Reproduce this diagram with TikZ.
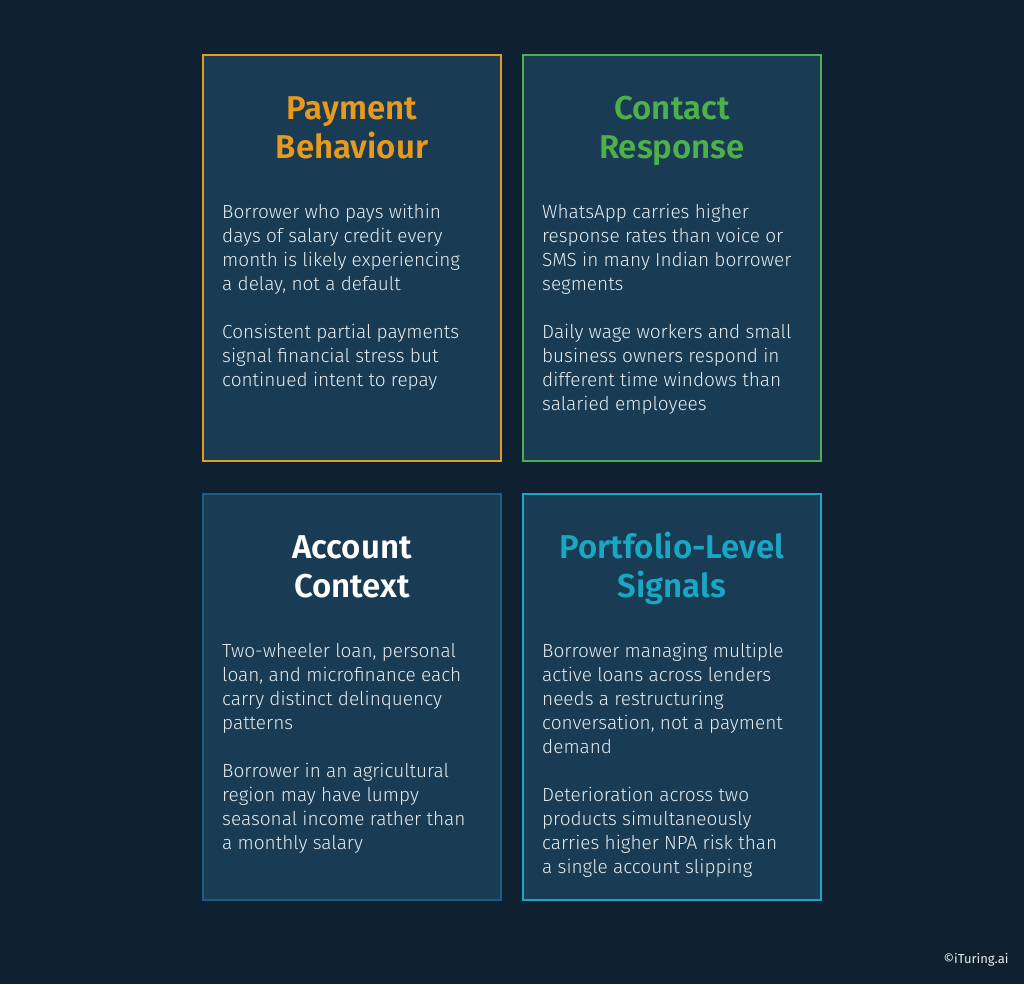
\documentclass[tikz,border=0pt]{standalone}
\usepackage{fontspec}
\setmainfont{Fira Sans}
\newfontfamily\titlefont{Fira Sans SemiBold}
\newfontfamily\bodyfont{Fira Sans Light}
\definecolor{bg}{HTML}{0F2030}
\definecolor{boxfill}{HTML}{193B54}
\definecolor{corange}{HTML}{E89A1C}
\definecolor{cgreen}{HTML}{4DB04A}
\definecolor{cblue}{HTML}{1A5C88}
\definecolor{ccyan}{HTML}{1AA7C4}
\definecolor{btext}{HTML}{E6ECF0}
\begin{document}
\begin{tikzpicture}[x=1pt,y=-1pt,
  card/.style={draw=#1,line width=2.5pt,fill=boxfill},
  ttl/.style={text=#1,font=\titlefont\fontsize{33}{39}\selectfont,align=center,anchor=center},
  body/.style={text=btext,font=\bodyfont\fontsize{19}{24}\selectfont,align=left,anchor=north west,inner sep=0pt}]
\useasboundingbox[fill=bg] (0,0) rectangle (1024,984);
\draw[card=corange] (203,55) rectangle (501,461);
\draw[card=cgreen] (523,55) rectangle (821,461);
\draw[card=cblue] (203,494) rectangle (501,900);
\draw[card=ccyan] (523,494) rectangle (821,900);
\node[ttl=corange] (t1) at (352,131) {\strut Payment\\\strut Behaviour};
\node[ttl=cgreen] (t2) at (672,131) {\strut Contact\\\strut Response};
\node[ttl=white] (t3) at (352,570) {\strut Account\\\strut Context};
\node[ttl=ccyan] (t4) at (672,570) {\strut Portfolio-Level\\\strut Signals};
\node[body] (b1) at (222,204) {Borrower who pays within\\days of salary credit every\\month is likely experiencing\\a delay, not a default\\[24pt]Consistent partial payments\\signal financial stress but\\continued intent to repay};
\node[body] (b2) at (542,204) {WhatsApp carries higher\\response rates than voice or\\SMS in many Indian borrower\\segments\\[24pt]Daily wage workers and small\\business owners respond in\\different time windows than\\salaried employees};
\node[body] (b3) at (222,643) {Two-wheeler loan, personal\\loan, and microfinance each\\carry distinct delinquency\\patterns\\[24pt]Borrower in an agricultural\\region may have lumpy\\seasonal income rather than\\a monthly salary};
\node[body] (b4) at (542,643) {Borrower managing multiple\\active loans across lenders\\needs a restructuring\\conversation, not a payment\\demand\\[24pt]Deterioration across two\\products simultaneously\\carries higher NPA risk than\\a single account slipping};
\node[text=btext,font=\fontsize{13}{15}\selectfont,anchor=east] (c) at (1012,960) {©iTuring.ai};
\end{tikzpicture}
\end{document}
